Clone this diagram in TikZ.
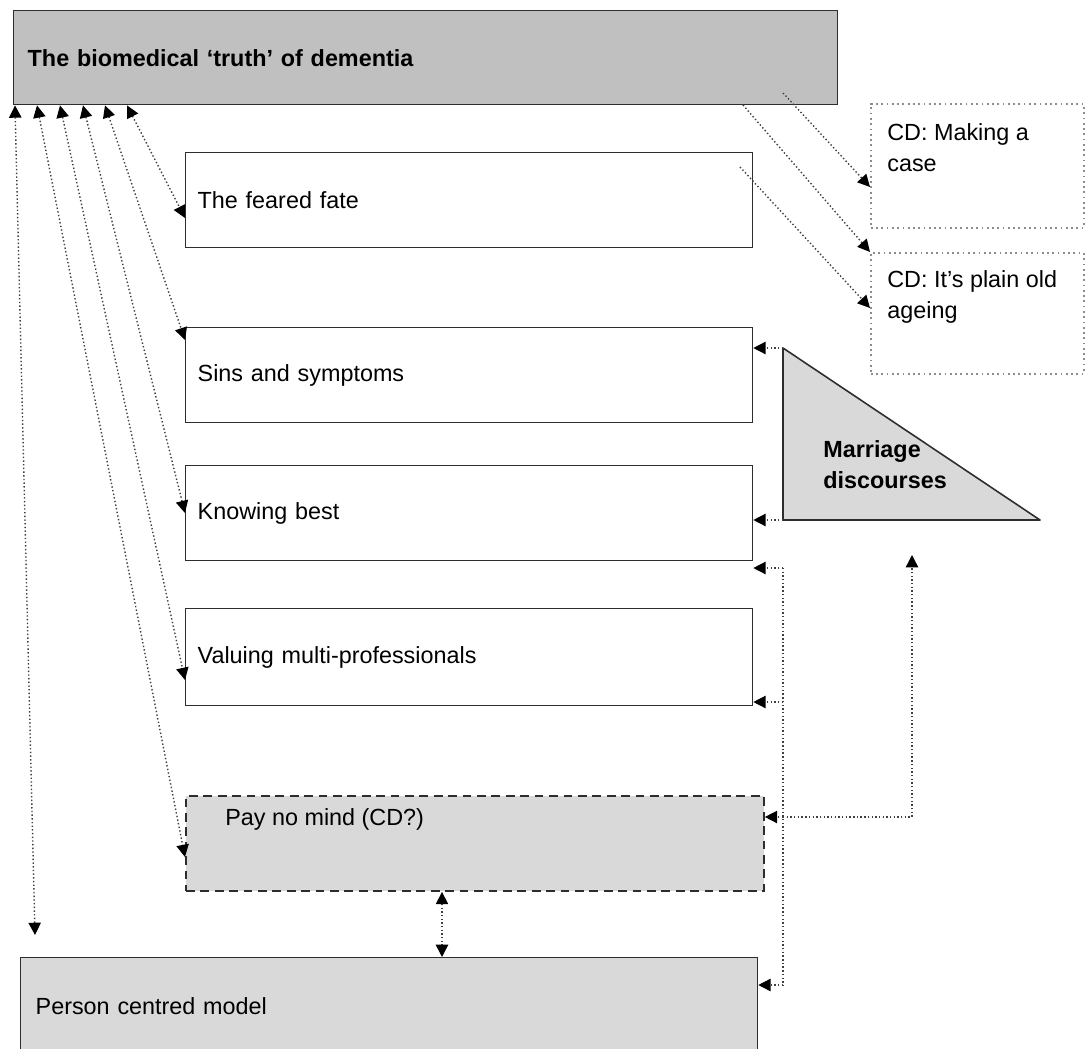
\documentclass[tikz,border=0pt]{standalone}
\usepackage{fontspec}
\setmainfont{Liberation Sans}
\usetikzlibrary{arrows.meta}
\definecolor{titlegray}{RGB}{192,192,192}
\definecolor{boxgray}{RGB}{217,217,217}
\definecolor{edgegray}{RGB}{45,45,45}
\begin{document}
\begin{tikzpicture}[x=0.02cm, y=-0.02cm, >={Triangle[length=7pt,width=7pt,black]},
    font=\fontsize{13.3}{17.5}\selectfont,
    box/.style={draw=edgegray, line width=0.8pt, anchor=north west, align=left, inner xsep=0.24cm, minimum height=1.9cm, text width=10.86cm},
    cdbox/.style={draw=black!45, line width=1pt, dash pattern=on 1pt off 2pt, anchor=north west, inner sep=0, minimum width=4.26cm},
    say/.style={anchor=north west, inner sep=0, align=left},
    dots/.style={black!75, line width=0.8pt, dash pattern=on 0.8pt off 1.3pt}]
    \useasboundingbox (0,0) rectangle (1085,1048);
    \node [box, fill=titlegray, text width=15.92cm, inner xsep=0.28cm, minimum height=1.88cm, font=\fontsize{13.3}{17.5}\selectfont\bfseries] (truth) at (13,10) {The biomedical ‘truth’ of dementia};
    \node [box, fill=white] (fate) at (185,152) {The feared fate};
    \node [box, fill=white] (sins) at (185,327) {Sins and symptoms};
    \node [box, fill=white] (know) at (185,465) {Knowing best};
    \node [box, fill=white, minimum height=1.94cm] (valu) at (185,608) {Valuing multi-professionals};
    \node [box, fill=boxgray, text width=11.08cm, line width=1.1pt, dash pattern=on 5pt off 3.2pt] (pay) at (185,795) {};
    \node [anchor=base west, inner sep=0] (paytext) at (225,825) {Pay no mind (CD?)};
    \node [box, fill=boxgray, text width=14.14cm, inner xsep=0.3cm, minimum height=1.92cm] (person) at (20,957) {Person centred model};
    \node [cdbox, minimum height=2.48cm] (case) at (870,103) {};
    \node [say] (casetext) at (887,123) {CD: Making a\\case};
    \node [cdbox, minimum height=2.42cm] (age) at (870,252) {};
    \node [say] (agetext) at (887,270) {CD: It’s plain old\\ageing};
    \coordinate (mdtop) at (783,348);
    \coordinate (mdleft) at (783,520);
    \coordinate (mdright) at (1040,520);
    \draw [draw=edgegray, fill=boxgray, line width=0.9pt, line join=round] (mdtop) -- (mdleft) -- (mdright) -- cycle;
    \node [say, font=\fontsize{13.3}{17.5}\selectfont\bfseries] (md) at (823,440) {Marriage\\discourses};

    \coordinate (pfree) at (35,935);
    \draw [dots, <->] (15,0 |- truth.south) -- (pfree);
    \draw [dots, <->] (37,0 |- truth.south) -- (pay.west |- 0,857);
    \draw [dots, <->] (60,0 |- truth.south) -- (valu.west |- 0,680);
    \draw [dots, <->] (83,0 |- truth.south) -- (know.west |- 0,513);
    \draw [dots, <->] (105,0 |- truth.south) -- (sins.west |- 0,340);
    \draw [dots, <->] (127,0 |- truth.south) -- (fate.west |- 0,218);

    \coordinate (truthc) at (783,93);
    \coordinate (truthd) at (743,105);
    \coordinate (fatec) at (740,167);
    \draw [dots, ->] (truthc) -- (case.west |- 0,187);
    \draw [dots, ->] (truthd) -- (age.north west);
    \draw [dots, ->] (fatec) -- (age.west |- 0,308);
    \draw [dots, ->] (mdtop) -- (mdtop -| sins.east);
    \draw [dots, ->] (mdleft) -- (mdleft -| know.east);

    \coordinate (brtop) at (783,568);
    \coordinate (brmid) at (783,817);
    \coordinate (brbot) at (783,985);
    \coordinate (mdfoot) at (912,555);
    \draw [dots] (brtop) -- (brbot);
    \draw [dots, ->] (brtop) -- (brtop -| know.east);
    \draw [dots, ->] (brtop |- 0,702) -- (valu.east |- 0,702);
    \draw [dots, ->] (brmid) -- (brmid -| pay.east);
    \draw [dots, ->] (brbot) -- (brbot -| person.east);
    \draw [dots, ->] (brmid) -| (mdfoot);
    \draw [dots, <->] (442,0 |- pay.south) -- (442,0 |- person.north);
\end{tikzpicture}
\end{document}
